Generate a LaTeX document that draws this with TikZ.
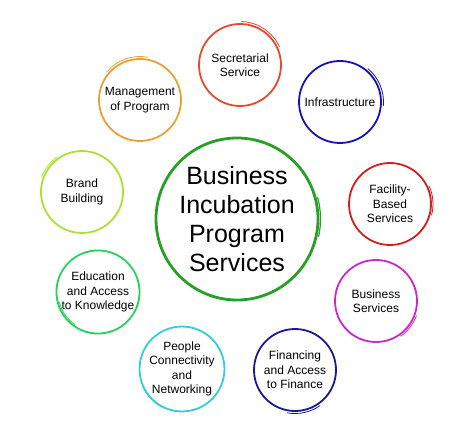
\documentclass[tikz,border=0pt]{standalone}
\usepackage{fontspec}
\setmainfont{Liberation Sans}
\definecolor{secred}{RGB}{232, 72, 50}
\definecolor{infrablue}{RGB}{ 20, 20,180}
\definecolor{facilred}{RGB}{210, 30, 30}
\definecolor{bizmagenta}{RGB}{200, 40,200}
\definecolor{finnavy}{RGB}{ 25, 25,150}
\definecolor{peoplecyan}{RGB}{ 50,205,220}
\definecolor{edugreen}{RGB}{ 40,210, 90}
\definecolor{brandlime}{RGB}{170,225, 50}
\definecolor{mgmtorange}{RGB}{235,160, 50}
\definecolor{hubgreen}{RGB}{ 40,160, 40}

\begin{document}
\begin{tikzpicture}[
x = 1pt, y = 1pt,
 ring/.style = {circle, draw=#1, line width=1.8pt,
                minimum size=82pt, inner sep=0pt, align=center,
                font=\fontsize{12}{14.5}\selectfont},
  hub/.style = {ring=#1, line width=2.8pt, minimum size=162pt,
                font=\fontsize{25}{29}\selectfont},
 tail/.style = {draw=#1, line width=0.8pt, line cap=round}
                ]

\useasboundingbox (0,0) rectangle (474,426);

\node[hub=hubgreen] (hub) at (237,207) {Business\\
                     Incubation\\
                     Program\\
                     Services};

\node[ring=secred]      (sec)    at (240,361) {Secretarial\\Service};
\node[ring=infrablue]   (infra)  at (340,324) {Infrastructure};
\node[ring=facilred]    (facil)  at (390,222) {Facility-\\Based\\Services};
\node[ring=bizmagenta]  (biz)    at (376,125) {Business\\Services};
\node[ring=finnavy]     (fin)    at (295, 56) {Financing\\and Access\\to Finance};
\node[ring=peoplecyan]  (people) at (182, 57) {People\\Connectivity\\and\\Networking};
\node[ring=edugreen]    (edu)    at ( 98,134) {Education\\and Access\\to Knowledge};
\node[ring=brandlime]   (brand)  at ( 82,234) {Brand\\Building};
\node[ring=mgmtorange]  (mgmt)   at (140,326) {Management\\of Program};

% loose brush ends
\draw[tail=secred]     (sec.center)    ++(88:43.5)  arc[start angle=88,  end angle=25,   radius=43.5];
\draw[tail=infrablue]  (infra.center)  ++(50:43.5)  arc[start angle=50,  end angle=-5,   radius=43.5];
\draw[tail=facilred]   (facil.center)  ++(25:43)    arc[start angle=25,  end angle=-15,  radius=43];
\draw[tail=bizmagenta] (biz.center)    ++(-20:43)   arc[start angle=-20, end angle=-55,  radius=43];
\draw[tail=finnavy]    (fin.center)    ++(-55:43.5) arc[start angle=-55, end angle=-100, radius=43.5];
\draw[tail=peoplecyan] (people.center) ++(245:43)   arc[start angle=245, end angle=205,  radius=43];
\draw[tail=edugreen]   (edu.center)    ++(235:40)   arc[start angle=235, end angle=195,  radius=40];
\draw[tail=brandlime]  (brand.center)  ++(160:43)   arc[start angle=160, end angle=125,  radius=43];
\draw[tail=mgmtorange] (mgmt.center)   ++(140:43.5) arc[start angle=140, end angle=80,   radius=43.5];
\draw[tail=hubgreen, line width=1.2pt] (hub.center) ++(15:83.5) arc[start angle=15, end angle=-12, radius=83.5];
\end{tikzpicture}
\end{document}
